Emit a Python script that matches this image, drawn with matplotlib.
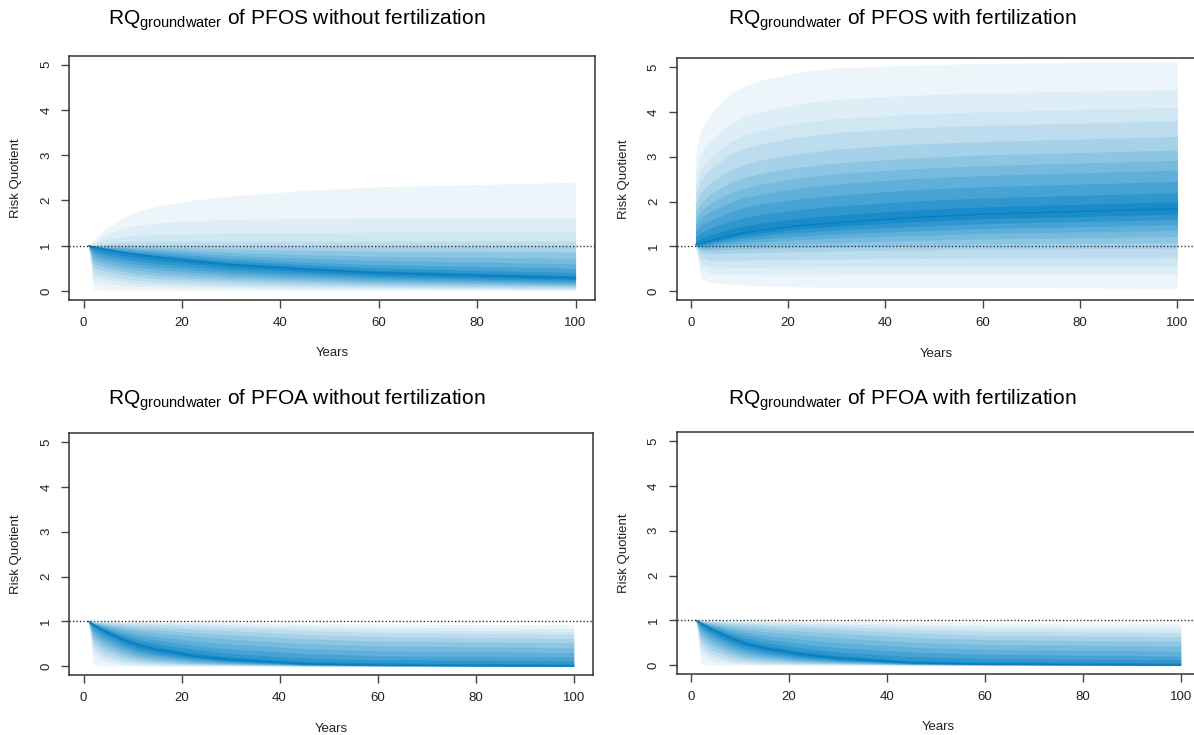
import matplotlib.pyplot as plt
import numpy as np
from matplotlib.colors import to_rgb

plt.rcParams['font.family'] = ['Liberation Sans', 'DejaVu Sans']
plt.rcParams['mathtext.fontset'] = 'custom'
plt.rcParams['mathtext.rm'] = 'Liberation Sans'

years = [1, 2, 4, 8, 11, 15, 22, 30, 45, 60, 100]

# probability of each quantile row (lower rows, then upper rows)
lower_probs = [0.01, 0.04, 0.07, 0.10, 0.15, 0.20, 0.25, 0.30, 0.35, 0.40, 0.45]
upper_probs = [0.55, 0.60, 0.65, 0.70, 0.75, 0.80, 0.85, 0.90, 0.93, 0.96, 0.99]

# PFOS without fertilization
pfos_nf_median = [1.0, 0.97, 0.93, 0.85, 0.80, 0.75, 0.66, 0.58, 0.48, 0.40, 0.29]
pfos_nf_lower = [
    [1.0, 0.04, 0.02, 0.02, 0.02, 0.02, 0.015, 0.01, 0.01, 0.01, 0.01],
    [1.0, 0.20, 0.17, 0.12, 0.10, 0.09, 0.075, 0.06, 0.05, 0.045, 0.03],
    [1.0, 0.32, 0.27, 0.20, 0.17, 0.15, 0.12, 0.10, 0.08, 0.07, 0.045],
    [1.0, 0.41, 0.35, 0.27, 0.23, 0.20, 0.17, 0.14, 0.11, 0.09, 0.06],
    [1.0, 0.51, 0.45, 0.36, 0.31, 0.27, 0.23, 0.20, 0.155, 0.125, 0.085],
    [1.0, 0.60, 0.53, 0.43, 0.38, 0.34, 0.29, 0.25, 0.20, 0.16, 0.11],
    [1.0, 0.68, 0.60, 0.50, 0.45, 0.40, 0.35, 0.30, 0.24, 0.195, 0.135],
    [1.0, 0.75, 0.67, 0.57, 0.52, 0.47, 0.41, 0.35, 0.285, 0.23, 0.16],
    [1.0, 0.81, 0.74, 0.64, 0.59, 0.54, 0.47, 0.40, 0.33, 0.27, 0.19],
    [1.0, 0.87, 0.81, 0.71, 0.66, 0.61, 0.53, 0.46, 0.38, 0.31, 0.22],
    [1.0, 0.92, 0.87, 0.78, 0.73, 0.68, 0.60, 0.52, 0.43, 0.35, 0.25],
]
pfos_nf_upper = [
    [1.0, 0.975, 0.94, 0.87, 0.83, 0.78, 0.70, 0.62, 0.53, 0.45, 0.34],
    [1.0, 0.980, 0.95, 0.89, 0.85, 0.81, 0.74, 0.67, 0.58, 0.51, 0.41],
    [1.0, 0.985, 0.96, 0.92, 0.89, 0.85, 0.79, 0.72, 0.64, 0.58, 0.50],
    [1.0, 0.990, 0.97, 0.95, 0.92, 0.89, 0.84, 0.78, 0.72, 0.67, 0.60],
    [1.0, 0.993, 0.98, 0.97, 0.95, 0.93, 0.89, 0.85, 0.80, 0.77, 0.72],
    [1.0, 0.996, 0.99, 0.99, 0.98, 0.97, 0.95, 0.92, 0.90, 0.88, 0.86],
    [1.0, 1.000, 1.01, 1.02, 1.015, 1.01, 1.00, 0.99, 0.985, 0.98, 0.99],
    [1.0, 1.020, 1.05, 1.09, 1.095, 1.10, 1.10, 1.10, 1.10, 1.10, 1.11],
    [1.0, 1.040, 1.12, 1.20, 1.23, 1.25, 1.27, 1.28, 1.29, 1.30, 1.30],
    [1.0, 1.070, 1.22, 1.38, 1.45, 1.50, 1.55, 1.58, 1.60, 1.62, 1.62],
    [1.0, 1.120, 1.35, 1.62, 1.76, 1.87, 2.00, 2.10, 2.22, 2.30, 2.40],
]

# PFOS with fertilization
pfos_f_median = [1.04, 1.07, 1.13, 1.24, 1.31, 1.37, 1.46, 1.53, 1.64, 1.72, 1.84]
pfos_f_lower = [
    [1.000, 0.30, 0.20, 0.16, 0.14, 0.12, 0.10, 0.09, 0.085, 0.08, 0.07],
    [1.000, 0.50, 0.40, 0.38, 0.375, 0.37, 0.37, 0.37, 0.375, 0.38, 0.38],
    [1.000, 0.63, 0.55, 0.54, 0.54, 0.54, 0.545, 0.55, 0.555, 0.56, 0.56],
    [1.000, 0.75, 0.69, 0.69, 0.695, 0.70, 0.71, 0.72, 0.73, 0.74, 0.75],
    [1.005, 0.87, 0.84, 0.85, 0.86, 0.87, 0.885, 0.90, 0.92, 0.94, 0.96],
    [1.010, 0.92, 0.91, 0.93, 0.945, 0.96, 0.975, 0.99, 1.02, 1.05, 1.08],
    [1.015, 0.96, 0.96, 0.99, 1.01, 1.03, 1.06, 1.09, 1.13, 1.17, 1.22],
    [1.020, 0.99, 1.00, 1.05, 1.08, 1.11, 1.15, 1.19, 1.24, 1.29, 1.36],
    [1.025, 1.01, 1.04, 1.10, 1.14, 1.18, 1.23, 1.28, 1.34, 1.40, 1.48],
    [1.030, 1.03, 1.07, 1.15, 1.20, 1.25, 1.31, 1.37, 1.44, 1.51, 1.60],
    [1.035, 1.05, 1.10, 1.20, 1.26, 1.31, 1.39, 1.45, 1.55, 1.62, 1.72],
]
pfos_f_upper = [
    [1.12, 1.18, 1.26, 1.39, 1.46, 1.53, 1.62, 1.70, 1.81, 1.88, 2.00],
    [1.22, 1.31, 1.41, 1.56, 1.64, 1.72, 1.82, 1.90, 2.01, 2.08, 2.20],
    [1.35, 1.47, 1.59, 1.77, 1.87, 1.95, 2.06, 2.14, 2.26, 2.33, 2.45],
    [1.49, 1.64, 1.78, 1.98, 2.09, 2.18, 2.30, 2.39, 2.51, 2.58, 2.70],
    [1.62, 1.80, 1.96, 2.19, 2.30, 2.40, 2.53, 2.62, 2.73, 2.80, 2.92],
    [1.77, 1.98, 2.17, 2.42, 2.54, 2.64, 2.77, 2.86, 2.97, 3.04, 3.15],
    [1.95, 2.20, 2.42, 2.70, 2.83, 2.94, 3.07, 3.17, 3.28, 3.34, 3.45],
    [2.18, 2.48, 2.73, 3.05, 3.19, 3.30, 3.44, 3.54, 3.64, 3.70, 3.80],
    [2.37, 2.71, 2.98, 3.33, 3.48, 3.60, 3.75, 3.85, 3.94, 4.00, 4.10],
    [2.65, 3.05, 3.35, 3.74, 3.90, 4.02, 4.18, 4.28, 4.37, 4.42, 4.50],
    [3.10, 3.60, 3.95, 4.40, 4.58, 4.72, 4.88, 4.98, 5.04, 5.08, 5.12],
]

# PFOA without fertilization
pfoa_nf_median = [1.0, 0.93, 0.80, 0.60, 0.48, 0.37, 0.23, 0.14, 0.05, 0.02, 0.0]
pfoa_nf_lower = [
    [1.0, 0.03, 0.00, 0.00, 0.00, 0.00, 0.000, 0.000, 0.000, 0.000, 0.0],
    [1.0, 0.24, 0.10, 0.04, 0.02, 0.01, 0.007, 0.005, 0.002, 0.000, 0.0],
    [1.0, 0.34, 0.18, 0.08, 0.05, 0.03, 0.015, 0.010, 0.004, 0.001, 0.0],
    [1.0, 0.42, 0.25, 0.12, 0.08, 0.05, 0.030, 0.020, 0.006, 0.002, 0.0],
    [1.0, 0.52, 0.34, 0.18, 0.12, 0.08, 0.045, 0.030, 0.010, 0.003, 0.0],
    [1.0, 0.60, 0.42, 0.24, 0.16, 0.11, 0.060, 0.040, 0.012, 0.004, 0.0],
    [1.0, 0.67, 0.49, 0.30, 0.21, 0.15, 0.080, 0.050, 0.016, 0.006, 0.0],
    [1.0, 0.73, 0.56, 0.36, 0.26, 0.19, 0.110, 0.065, 0.020, 0.008, 0.0],
    [1.0, 0.79, 0.63, 0.42, 0.31, 0.23, 0.140, 0.080, 0.025, 0.010, 0.0],
    [1.0, 0.84, 0.69, 0.48, 0.36, 0.27, 0.170, 0.100, 0.030, 0.012, 0.0],
    [1.0, 0.89, 0.75, 0.54, 0.42, 0.32, 0.200, 0.120, 0.040, 0.015, 0.0],
]
pfoa_nf_upper = [
    [1.0, 0.940, 0.83, 0.64, 0.53, 0.43, 0.30, 0.20, 0.10, 0.07, 0.05],
    [1.0, 0.945, 0.85, 0.69, 0.59, 0.50, 0.38, 0.28, 0.18, 0.14, 0.12],
    [1.0, 0.950, 0.88, 0.74, 0.66, 0.58, 0.47, 0.38, 0.28, 0.23, 0.20],
    [1.0, 0.960, 0.90, 0.79, 0.72, 0.66, 0.57, 0.49, 0.39, 0.34, 0.30],
    [1.0, 0.965, 0.92, 0.84, 0.79, 0.74, 0.67, 0.60, 0.50, 0.45, 0.41],
    [1.0, 0.970, 0.94, 0.88, 0.84, 0.81, 0.75, 0.70, 0.61, 0.56, 0.52],
    [1.0, 0.980, 0.96, 0.92, 0.89, 0.87, 0.83, 0.79, 0.71, 0.66, 0.62],
    [1.0, 0.985, 0.975, 0.95, 0.935, 0.92, 0.89, 0.86, 0.80, 0.75, 0.71],
    [1.0, 0.990, 0.985, 0.97, 0.96, 0.95, 0.93, 0.90, 0.85, 0.81, 0.77],
    [1.0, 0.995, 0.99, 0.985, 0.98, 0.97, 0.96, 0.94, 0.90, 0.87, 0.84],
    [1.0, 1.000, 1.00, 0.995, 0.99, 0.99, 0.98, 0.97, 0.955, 0.94, 0.92],
]

# PFOA with fertilization
pfoa_f_median = [1.0, 0.94, 0.81, 0.61, 0.48, 0.38, 0.25, 0.15, 0.05, 0.02, 0.0]
pfoa_f_lower = [
    [1.0, 0.03, 0.00, 0.00, 0.00, 0.00, 0.000, 0.000, 0.000, 0.000, 0.0],
    [1.0, 0.25, 0.10, 0.04, 0.02, 0.01, 0.007, 0.005, 0.002, 0.000, 0.0],
    [1.0, 0.35, 0.19, 0.08, 0.05, 0.03, 0.015, 0.010, 0.004, 0.001, 0.0],
    [1.0, 0.43, 0.26, 0.12, 0.08, 0.05, 0.030, 0.020, 0.006, 0.002, 0.0],
    [1.0, 0.53, 0.35, 0.18, 0.12, 0.08, 0.045, 0.030, 0.010, 0.003, 0.0],
    [1.0, 0.61, 0.43, 0.25, 0.17, 0.12, 0.065, 0.040, 0.013, 0.004, 0.0],
    [1.0, 0.68, 0.50, 0.31, 0.22, 0.16, 0.090, 0.055, 0.017, 0.006, 0.0],
    [1.0, 0.74, 0.57, 0.37, 0.27, 0.20, 0.115, 0.070, 0.021, 0.008, 0.0],
    [1.0, 0.80, 0.64, 0.43, 0.32, 0.24, 0.145, 0.085, 0.026, 0.010, 0.0],
    [1.0, 0.85, 0.70, 0.49, 0.37, 0.28, 0.175, 0.105, 0.032, 0.012, 0.0],
    [1.0, 0.90, 0.76, 0.55, 0.43, 0.33, 0.210, 0.125, 0.040, 0.015, 0.0],
]
pfoa_f_upper = [
    [1.0, 0.950, 0.84, 0.65, 0.54, 0.44, 0.31, 0.21, 0.10, 0.07, 0.05],
    [1.0, 0.955, 0.86, 0.70, 0.60, 0.51, 0.39, 0.29, 0.19, 0.15, 0.12],
    [1.0, 0.960, 0.88, 0.75, 0.67, 0.59, 0.48, 0.39, 0.29, 0.24, 0.20],
    [1.0, 0.965, 0.90, 0.80, 0.73, 0.67, 0.58, 0.50, 0.40, 0.35, 0.31],
    [1.0, 0.970, 0.92, 0.84, 0.79, 0.75, 0.68, 0.61, 0.51, 0.46, 0.42],
    [1.0, 0.975, 0.94, 0.88, 0.85, 0.82, 0.76, 0.71, 0.62, 0.57, 0.53],
    [1.0, 0.980, 0.96, 0.92, 0.90, 0.88, 0.84, 0.80, 0.72, 0.67, 0.63],
    [1.0, 0.985, 0.975, 0.95, 0.935, 0.92, 0.89, 0.86, 0.80, 0.76, 0.72],
    [1.0, 0.990, 0.985, 0.97, 0.96, 0.95, 0.93, 0.91, 0.86, 0.82, 0.78],
    [1.0, 0.995, 0.99, 0.985, 0.98, 0.97, 0.96, 0.94, 0.91, 0.88, 0.85],
    [1.0, 1.000, 1.00, 0.995, 0.99, 0.99, 0.98, 0.97, 0.955, 0.94, 0.93],
]

titles = [
    r'RQ$_{\mathregular{groundwater}}$ of PFOS without fertilization',
    r'RQ$_{\mathregular{groundwater}}$ of PFOS with fertilization',
    r'RQ$_{\mathregular{groundwater}}$ of PFOA without fertilization',
    r'RQ$_{\mathregular{groundwater}}$ of PFOA with fertilization',
]
panels = [
    (pfos_nf_lower, pfos_nf_median, pfos_nf_upper),
    (pfos_f_lower, pfos_f_median, pfos_f_upper),
    (pfoa_nf_lower, pfoa_nf_median, pfoa_nf_upper),
    (pfoa_f_lower, pfoa_f_median, pfoa_f_upper),
]

W, H = 1194, 735
# axes boxes in pixels: left, top, right, bottom
boxes = [
    (69, 55.5, 595, 300),
    (676.5, 58, 1196.5, 300.3),
    (69, 433.3, 593, 675),
    (676.5, 432.3, 1200, 674),
]
title_pos = [(297, 20), (902, 20), (297, 400), (902, 400)]

# band colour follows the probability distance from the median
dark = np.array(to_rgb('#0B86C6'))
light = np.array(to_rgb('#F3F8FB'))
dist = [p - 0.5 for p in upper_probs]
mids = [(a + b) / 2 for a, b in zip([0.0] + dist[:-1], dist)]
band_cols = [tuple(dark + (light - dark) * (m / 0.49)) for m in mids]
n_bands = len(upper_probs)

fig = plt.figure(figsize=(W / 100, H / 100), dpi=100)

for i, (lower, median, upper) in enumerate(panels):
    l, t, r, b = boxes[i]
    ax = fig.add_axes([l / W, 1 - b / H, (r - l) / W, (b - t) / H])

    # nested intervals, widest first; lower[-1-k] pairs with upper[k]
    for k in range(n_bands - 1, -1, -1):
        ax.fill_between(years, lower[n_bands - 1 - k], upper[k],
                        color=band_cols[k], lw=0)

    ax.plot(years, median, color='#0A7DBE', lw=1)
    ax.axhline(1, color='#333333', ls=(0, (1, 1.5)), lw=1)

    ax.set_xlim(-2.96, 103.96)
    ax.set_ylim(-0.2, 5.2)
    ax.set_xticks([0, 20, 40, 60, 80, 100])
    ax.set_yticks([0, 1, 2, 3, 4, 5])
    ax.tick_params(axis='both', length=6, width=1, color='#444444',
                   labelsize=9.5, labelcolor='#222222', pad=6)
    ax.tick_params(axis='y', labelrotation=90)
    for lab in ax.get_yticklabels():
        lab.set_va('center')
    for sp in ax.spines.values():
        sp.set_color('#333333')
        sp.set_linewidth(1.1)

    ax.set_xlabel('Years', fontsize=9.5, color='#222222')
    ax.set_ylabel('Risk Quotient', fontsize=9.5, color='#222222')
    ax.xaxis.set_label_coords(0.5, -47.5 / (b - t))
    ax.yaxis.set_label_coords(-47 / (r - l), 0.5)

    tx, ty = title_pos[i]
    fig.text(tx / W, 1 - ty / H, titles[i], fontsize=15,
             ha='center', va='center')

fig.savefig('out.png', dpi=100)
